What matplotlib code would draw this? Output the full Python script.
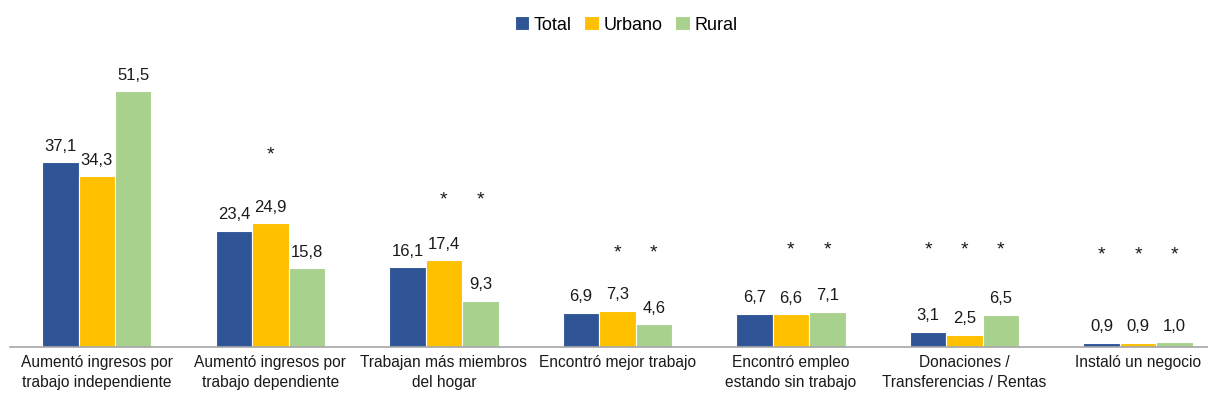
import matplotlib.pyplot as plt
import numpy as np

categories = [
    "Aumentó ingresos por\ntrabajo independiente",
    "Aumentó ingresos por\ntrabajo dependiente",
    "Trabajan más miembros\ndel hogar",
    "Encontró mejor trabajo",
    "Encontró empleo\nestando sin trabajo",
    "Donaciones /\nTransferencias / Rentas",
    "Instaló un negocio",
]
series_names = ["Total", "Urbano", "Rural"]
total = [37.1, 23.4, 16.1, 6.9, 6.7, 3.1, 0.9]
urbano = [34.3, 24.9, 17.4, 7.3, 6.6, 2.5, 0.9]
rural = [51.5, 15.8, 9.3, 4.6, 7.1, 6.5, 1.0]

# asterisk flags per series (Total, Urbano, Rural) and their heights
star_total = [0, 0, 0, 0, 0, 1, 1]
star_urbano = [0, 1, 1, 1, 1, 1, 1]
star_rural = [0, 0, 1, 1, 1, 1, 1]
star_y = [0, 38.6, 29.6, 18.9, 19.5, 19.5, 18.6]

colors = ["#2F5597", "#FFC000", "#A9D18E"]

plt.rcParams['font.family'] = ['Liberation Sans', 'DejaVu Sans']

fig = plt.figure(figsize=(12.08, 4.03), dpi=100)
ax = fig.add_axes([10 / 1208, 56 / 403, 1198 / 1208, 287 / 403])

x = np.arange(len(categories))
w = 0.21
values = [total, urbano, rural]
stars = [star_total, star_urbano, star_rural]
for k, (vals, name) in enumerate(zip(values, series_names)):
    pos = x + (k - 1) * w
    bars = ax.bar(pos, vals, width=w, color=colors[k], edgecolor='white',
                  linewidth=0.8, label=name, zorder=2)
    for b, v in zip(bars, vals):
        ax.annotate(f"{v:.1f}".replace('.', ','),
                    (b.get_x() + b.get_width() / 2, v),
                    xytext=(0, 6), textcoords='offset points',
                    ha='center', va='bottom', fontsize=12, color='#1a1a1a')
    for p, s, sy in zip(pos, stars[k], star_y):
        if s:
            ax.text(p, sy, "*", ha='center', va='center', fontsize=14,
                    color='#1a1a1a')

ax.set_xlim(-0.5, 6.403)
ax.set_ylim(0, 57.7)
ax.set_xticks(x)
ax.set_xticklabels(categories, fontsize=11.2, color='#1a1a1a', linespacing=1.4)
ax.tick_params(axis='x', length=0, pad=6)
ax.set_yticks([])
for side in ['top', 'right', 'left']:
    ax.spines[side].set_visible(False)
ax.spines['bottom'].set_color('#A6A6A6')
ax.spines['bottom'].set_linewidth(1.2)

fig.legend(loc='center', bbox_to_anchor=(626 / 1208, 1 - 25 / 403), ncol=3,
           frameon=False, fontsize=13, handlelength=0.8, handleheight=0.8,
           handletextpad=0.25, columnspacing=0.7)

fig.savefig("out.png", dpi=100)
